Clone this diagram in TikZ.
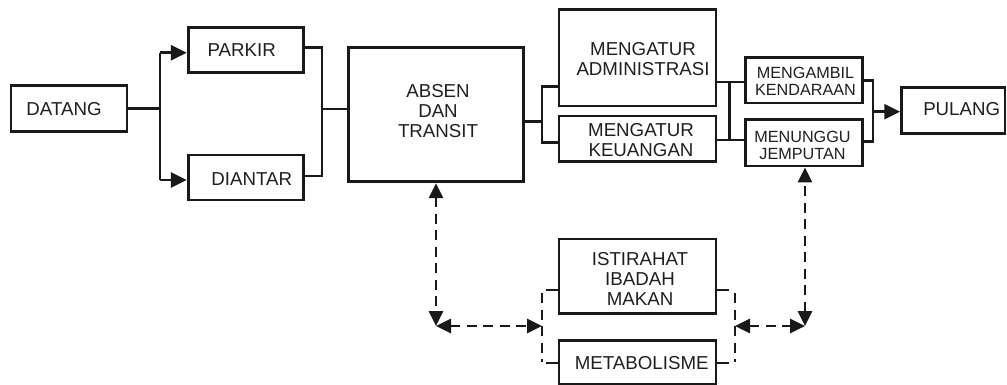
\documentclass[tikz,border=0pt]{standalone}
\usepackage{fontspec}
\setmainfont{Liberation Sans}
\usetikzlibrary{arrows.meta}
\begin{document}
\begin{tikzpicture}[x=1pt,y=-1pt,
  line join=miter,
  box/.style={draw=black!90, line width=2.8pt, inner sep=0pt, rectangle},
  lbl/.style={inner sep=0pt, align=center, text=black!88,
    font=\fontsize{18.7}{20}\selectfont},
  slbl/.style={lbl, font=\fontsize{16.2}{17.3}\selectfont},
  wire/.style={draw=black!90, line width=2.8pt},
  tip/.style={-{Triangle[length=16pt,width=15pt]}},
  dashline/.style={wire, dash pattern=on 10pt off 6.5pt},
  both/.style={{Triangle[length=15pt,width=14pt]}-{Triangle[length=15pt,width=14pt]}}
]
\useasboundingbox (0,0) rectangle (1007,385);

% ---- boxes ----
\node[box, minimum width=116pt, minimum height=46pt] (datang) at (69,108.7) {};
\node[box, minimum width=115pt, minimum height=45.4pt] (parkir) at (245.7,50) {};
\node[box, minimum width=115pt, minimum height=45pt] (diantar) at (245.7,177.5) {};
\node[box, minimum width=175pt, minimum height=134pt] (absen) at (435.8,114.7) {};
\node[box, minimum width=157pt, minimum height=96.7pt] (admin) at (637.5,57.7) {};
\node[box, minimum width=157pt, minimum height=45.7pt] (uang) at (637.5,138.8) {};
\node[box, minimum width=117pt, minimum height=45.7pt] (ambil) at (804.2,80.2) {};
\node[box, minimum width=117pt, minimum height=46.5pt] (tunggu) at (804.2,142.8) {};
\node[box, minimum width=103.3pt, minimum height=46pt] (pulang) at (953.3,110.3) {};
\node[box, minimum width=157pt, minimum height=74.3pt] (istirahat) at (637.5,276.2) {};
\node[box, minimum width=157pt, minimum height=44pt] (metab) at (637.5,362.7) {};

% ---- labels ----
\node[lbl] (datang-t) at (64,109) {DATANG};
\node[lbl] (parkir-t) at (241.7,50.3) {PARKIR};
\node[lbl] (diantar-t) at (251.7,179) {DIANTAR};
\node[lbl] (absen-t) at (438,111) {ABSEN\\DAN\\TRANSIT};
\node[lbl] (admin-t) at (643,59.2) {MENGATUR\\ADMINISTRASI};
\node[lbl] (uang-t) at (641,139.8) {MENGATUR\\KEUANGAN};
\node[slbl] (ambil-t) at (805.5,81.5) {MENGAMBIL\\KENDARAAN};
\node[slbl] (tunggu-t) at (802.5,145.7) {MENUNGGU\\JEMPUTAN};
\node[lbl] (pulang-t) at (961.7,109) {PULANG};
\node[lbl] (istirahat-t) at (640,279.2) {ISTIRAHAT\\IBADAH\\MAKAN};
\node[lbl] (metab-t) at (641.7,363) {METABOLISME};

% ---- junction points ----
\coordinate (j1) at (160,108.7);
\coordinate (j1a) at (160,52.7);
\coordinate (j1b) at (160,180);
\coordinate (j2a) at (322,47.7);
\coordinate (j2b) at (322,176);
\coordinate (j2) at (322,109);
\coordinate (j3) at (542,121.7);
\coordinate (j3a) at (542,86.7);
\coordinate (j3b) at (542,142.7);
\coordinate (j4a) at (729.5,82);
\coordinate (j4b) at (729.5,140);
\coordinate (j5a) at (873,80.7);
\coordinate (j5b) at (873,141.7);
\coordinate (j5) at (873,111.7);

% ---- solid flow ----
\draw[wire] (datang.east |- j1) -- (j1);
\draw[wire] (j1a) -- (j1b);
\draw[wire, tip] (j1a) -- (parkir.west |- j1a);
\draw[wire, tip] (j1b) -- (diantar.west |- j1b);

\draw[wire] (parkir.east |- j2a) -- (j2a) -- (j2b) -- (diantar.east |- j2b);
\draw[wire] (j2) -- (absen.west |- j2);

\draw[wire] (absen.east |- j3) -- (j3);
\draw[wire] (admin.west |- j3a) -- (j3a) -- (j3b) -- (uang.west |- j3b);

\draw[wire] (admin.east |- j4a) -- (j4a) -- (j4b) -- (uang.east |- j4b);
\draw[wire] (j4a) -- (ambil.west |- j4a);
\draw[wire] (j4b) -- (tunggu.west |- j4b);

\draw[wire] (ambil.east |- j5a) -- (j5a) -- (j5b) -- (tunggu.east |- j5b);
\draw[wire, tip] (j5) -- (pulang.west |- j5);

% ---- break activities: brackets ----
\coordinate (bl) at (542,290);
\coordinate (br) at (735,290);
\draw[wire] (istirahat.west |- bl) -- ++(-12,0);
\draw[wire] (metab.west |- 0,363) -- ++(-12,0);
\draw[wire] (istirahat.east |- br) -- ++(12,0);
\draw[wire] (metab.east |- 0,363) -- ++(12,0);
\draw[dashline] (542,293) -- (542,362);
\draw[dashline] (735,293) -- (735,362);

% ---- dashed two-way links ----
\coordinate (cl) at (436,326);
\coordinate (bkl) at (542,326);
\coordinate (bkr) at (735,326);
\coordinate (cr) at (805,326);
\draw[dashline, both] (absen.south -| cl) -- (cl);
\draw[dashline, both] (cl) -- (bkl);
\draw[dashline, both] (bkr) -- (cr);
\draw[dashline, both] (cr) -- (tunggu.south -| cr);
\end{tikzpicture}
\end{document}
